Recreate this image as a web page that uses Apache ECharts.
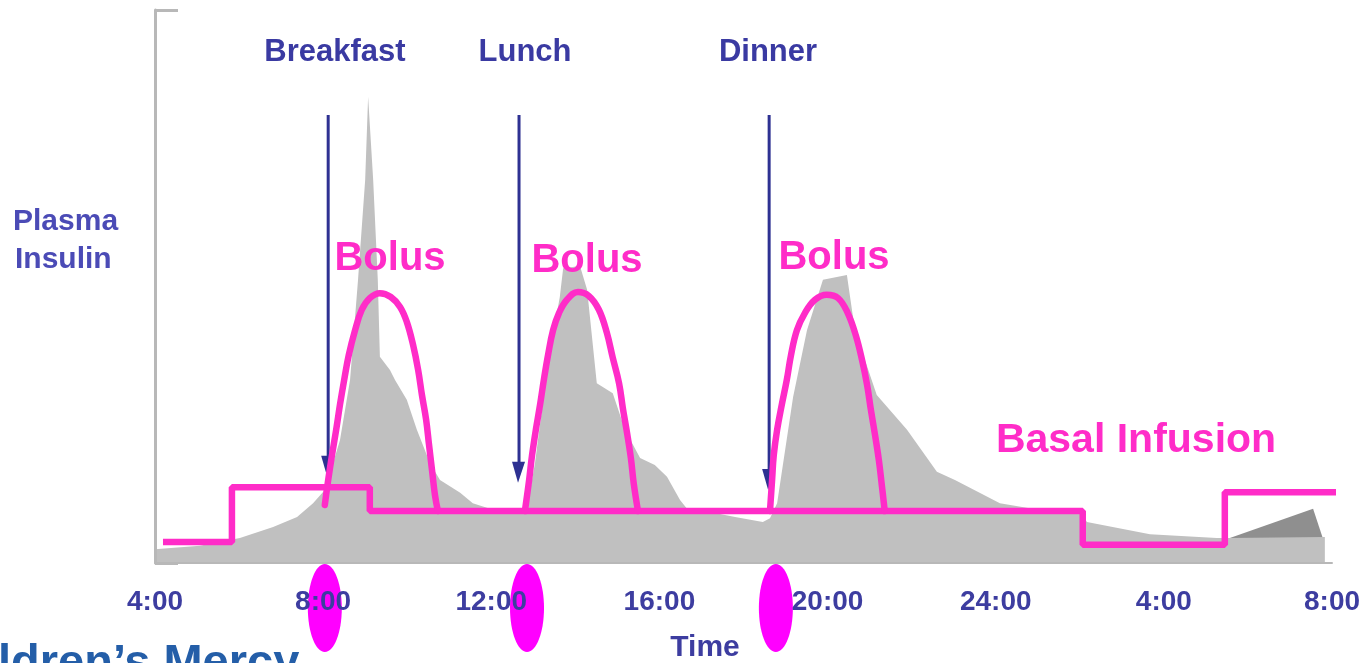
<!DOCTYPE html>
<html>
<head>
<meta charset="utf-8">
<script src="https://cdn.jsdelivr.net/npm/echarts@6/dist/echarts.min.js"></script>
<style>
html,body{margin:0;padding:0;background:#ffffff;}
#chart{width:1366px;height:663px;}
</style>
</head>
<body>
<div id="chart"></div>
<script>
// ---- data (time in hours from 4:00; insulin in arbitrary units 0-100) ----
const tickHours = [4, 8, 12, 16, 20, 24, 28, 32];
const tickLabels = ['4:00', '8:00', '12:00', '16:00', '20:00', '24:00', '4:00', '8:00'];

const mealNames = ['Breakfast', 'Lunch', 'Dinner'];
const mealArrowHours = [8.12, 12.66, 18.61];
const mealArrowTop = [81, 81, 81];
const mealArrowTip = [15.6, 14.5, 13.2];
const mealMarkerHours = [8.04, 12.85, 18.77];

const insulinHours = [4.00, 5.07, 6.02, 6.81, 7.38, 7.76, 8.04, 8.40, 8.64, 8.83, 9.00, 9.07, 9.19, 9.30, 9.35, 9.59, 9.71, 9.99, 10.23, 10.54, 10.78, 11.26, 11.56, 11.97, 12.68, 12.85, 13.04, 13.35, 13.63, 13.71, 14.11, 14.28, 14.51, 14.89, 15.18, 15.54, 15.89, 16.18, 16.49, 16.68, 17.20, 17.80, 18.46, 18.63, 18.80, 19.18, 19.51, 19.89, 20.46, 20.65, 21.17, 21.89, 22.60, 23.03, 24.10, 25.05, 26.05, 26.17, 27.67, 29.26, 29.57, 31.83, 31.83];
const insulinLevel = [2.5, 3.1, 4.5, 6.5, 8.3, 10.8, 13.2, 22.2, 33.1, 51.2, 69.3, 84.3, 69.3, 51.2, 37.3, 34.9, 33.1, 29.5, 24.1, 18.1, 15.0, 12.7, 10.8, 9.8, 9.6, 9.9, 18.1, 36.2, 48.1, 53.3, 53.7, 49.4, 32.5, 30.7, 24.1, 19.0, 17.7, 15.6, 11.4, 9.6, 9.2, 8.3, 7.4, 8.1, 10.8, 30.0, 42.1, 51.2, 52.1, 42.1, 30.4, 24.1, 16.5, 15.0, 10.8, 9.6, 8.9, 7.4, 5.2, 4.5, 4.5, 4.7, 0];

const dawnHours = [29.57, 31.55, 31.78];
const dawnLevel = [4.5, 9.8, 4.5];

const basalHours = [4.19, 5.83, 9.11, 26.07, 29.45, 32.6];
const basalRate = [3.8, 13.7, 9.4, 3.3, 12.8, 12.8];

const bolusBreakfastHours = [8.04, 8.12, 8.21, 8.31, 8.40, 8.50, 8.61, 8.76, 8.92, 9.11, 9.35, 9.61, 9.83, 9.99, 10.14, 10.26, 10.35, 10.45, 10.52, 10.59, 10.66, 10.73];
const bolusBreakfastLevel = [10.5, 15.0, 19.5, 24.1, 28.6, 33.1, 37.6, 42.1, 45.8, 47.9, 48.8, 48.1, 46.3, 43.6, 39.4, 34.9, 30.4, 25.9, 21.3, 16.8, 12.3, 9.4];
const bolusLunchHours = [12.80, 12.90, 12.97, 13.06, 13.16, 13.25, 13.35, 13.47, 13.61, 13.80, 14.06, 14.32, 14.56, 14.75, 14.89, 15.04, 15.13, 15.23, 15.32, 15.39, 15.49];
const bolusLunchLevel = [9.4, 15.0, 19.5, 24.1, 28.6, 33.1, 37.6, 42.1, 45.2, 47.6, 49.0, 48.3, 45.8, 41.6, 37.1, 32.5, 28.0, 23.5, 19.0, 14.3, 9.4];
const bolusDinnerHours = [18.63, 18.68, 18.72, 18.80, 18.91, 19.03, 19.13, 19.27, 19.46, 19.70, 19.98, 20.25, 20.48, 20.67, 20.82, 20.94, 21.03, 21.13, 21.22, 21.29, 21.36];
const bolusDinnerLevel = [9.4, 15.0, 19.5, 24.1, 28.6, 33.1, 37.6, 42.1, 45.2, 47.6, 48.5, 47.9, 45.2, 41.2, 36.7, 32.2, 27.7, 23.1, 18.6, 14.1, 9.4];

// ---- helpers ----
const zip = (xs, ys) => xs.map((x, i) => [x, ys[i]]);
const MAGENTA = '#ff2cc8';
const NAVY = '#2e3192';
const TEXTBLUE = '#3a3aa2';
const FONT = '"Liberation Sans", Arial, sans-serif';

const chart = echarts.init(document.getElementById('chart'));

function bolusSeries(hours, levels) {
  return {
    type: 'line', data: zip(hours, levels), smooth: 0.4, symbol: 'none', z: 4,
    lineStyle: { color: MAGENTA, width: 6.5, join: 'round', cap: 'round' }
  };
}

const option = {
  animation: false,
  backgroundColor: '#ffffff',
  grid: { left: 155, right: 34, top: 10, bottom: 100 },
  xAxis: {
    type: 'value', min: 4, max: 32, interval: 4, z: 6,
    axisLine: { lineStyle: { color: '#b8b8b8', width: 2 } },
    axisTick: { show: false },
    splitLine: { show: false },
    axisLabel: {
      margin: 25,
      color: '#3d3da0',
      fontFamily: FONT, fontWeight: 'bold', fontSize: 28,
      formatter: v => { const i = tickHours.indexOf(v); return i >= 0 ? tickLabels[i] : ''; }
    }
  },
  yAxis: {
    type: 'value', min: 0, max: 100, interval: 100, z: 6,
    axisLine: { show: true, lineStyle: { color: '#b8b8b8', width: 3 } },
    axisTick: { show: true, inside: true, length: 23, lineStyle: { color: '#b8b8b8', width: 3 } },
    axisLabel: { show: false },
    splitLine: { show: false }
  },
  series: [
    { // dawn rise (darker)
      type: 'line', data: zip(dawnHours, dawnLevel), symbol: 'none', z: 2,
      lineStyle: { width: 0 }, areaStyle: { color: '#8f8f8f', opacity: 1 }
    },
    { // plasma insulin
      type: 'line', data: zip(insulinHours, insulinLevel), symbol: 'none', z: 2,
      lineStyle: { width: 0 }, areaStyle: { color: '#c0c0c0', opacity: 1 }
    },
    { // basal infusion
      type: 'line', data: zip(basalHours, basalRate), step: 'end', symbol: 'none', clip: false, z: 4,
      lineStyle: { color: MAGENTA, width: 6.5 }
    },
    bolusSeries(bolusBreakfastHours, bolusBreakfastLevel),
    bolusSeries(bolusLunchHours, bolusLunchLevel),
    bolusSeries(bolusDinnerHours, bolusDinnerLevel),
    { // meal arrows
      type: 'custom', z: 3,
      data: mealArrowHours.map((h, i) => [h, mealArrowTop[i], mealArrowTip[i]]),
      renderItem: (params, api) => {
        const p1 = api.coord([api.value(0), api.value(1)]);
        const p2 = api.coord([api.value(0), api.value(2)]);
        const x = p1[0];
        return {
          type: 'group',
          children: [
            { type: 'line', shape: { x1: x, y1: p1[1], x2: x, y2: p2[1] - 16 },
              style: { stroke: NAVY, lineWidth: 3 } },
            { type: 'polygon', shape: { points: [[x - 7, p2[1] - 21], [x + 6, p2[1] - 21], [x - 1, p2[1]]] },
              style: { fill: NAVY } }
          ]
        };
      }
    },
    { // meal time markers under the axis
      type: 'custom', z: 3,
      data: mealMarkerHours.map(h => [h, 0]),
      renderItem: (params, api) => {
        const p = api.coord([api.value(0), api.value(1)]);
        return { type: 'ellipse', shape: { cx: p[0], cy: p[1] + 45, rx: 17, ry: 44 }, style: { fill: '#ff00ff' } };
      }
    }
  ],
  graphic: [
    { type: 'text', x: 335, y: 52, style: { text: mealNames[0], fill: TEXTBLUE, font: 'bold 31px ' + FONT, align: 'center', verticalAlign: 'middle' } },
    { type: 'text', x: 525, y: 52, style: { text: mealNames[1], fill: TEXTBLUE, font: 'bold 31px ' + FONT, align: 'center', verticalAlign: 'middle' } },
    { type: 'text', x: 768, y: 52, style: { text: mealNames[2], fill: TEXTBLUE, font: 'bold 31px ' + FONT, align: 'center', verticalAlign: 'middle' } },
    { type: 'text', x: 13, y: 222, style: { text: 'Plasma', fill: '#4b4bb6', font: 'bold 30px ' + FONT, align: 'left', verticalAlign: 'middle' } },
    { type: 'text', x: 15, y: 260, style: { text: 'Insulin', fill: '#4b4bb6', font: 'bold 30px ' + FONT, align: 'left', verticalAlign: 'middle' } },
    { type: 'text', x: 390, y: 259, z: 10, style: { text: 'Bolus', fill: MAGENTA, font: 'bold 40px ' + FONT, align: 'center', verticalAlign: 'middle' } },
    { type: 'text', x: 587, y: 261, z: 10, style: { text: 'Bolus', fill: MAGENTA, font: 'bold 40px ' + FONT, align: 'center', verticalAlign: 'middle' } },
    { type: 'text', x: 834, y: 258, z: 10, style: { text: 'Bolus', fill: MAGENTA, font: 'bold 40px ' + FONT, align: 'center', verticalAlign: 'middle' } },
    { type: 'text', x: 1136, y: 441, z: 10, style: { text: 'Basal Infusion', fill: MAGENTA, font: 'bold 41px ' + FONT, align: 'center', verticalAlign: 'middle' } },
    { type: 'text', x: 705, y: 648, style: { text: 'Time', fill: '#3d3da0', font: 'bold 30px ' + FONT, align: 'center', verticalAlign: 'middle' } },
    { type: 'text', x: -2, y: 664, style: { text: 'ldren’s Mercy', fill: '#245ea8', font: 'bold 47px ' + FONT, align: 'left', verticalAlign: 'middle' } }
  ]
};
chart.setOption(option);
</script>
</body>
</html>
